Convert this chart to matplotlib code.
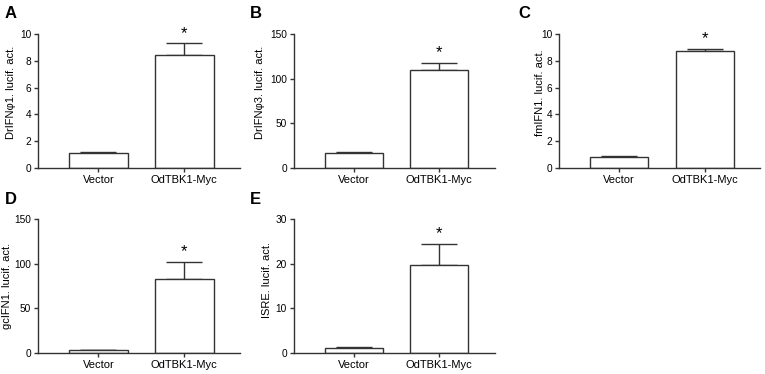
import numpy as np
import matplotlib
matplotlib.use("Agg")
import matplotlib.pyplot as plt

# --- Data ---
groups = ["Vector", "OdTBK1-Myc"]
panel_labels = ["A", "B", "C", "D", "E"]
ylabels = ["DrIFNφ1. lucif. act.", "DrIFNφ3. lucif. act.", "fmIFN1. lucif. act.",
           "gcIFN1. lucif. act.", "ISRE. lucif. act."]
means_A = [1.1, 8.4]
errs_A = [0.1, 0.9]
means_B = [17, 110]
errs_B = [1, 8]
means_C = [0.85, 8.75]
errs_C = [0.02, 0.12]
means_D = [3, 83]
errs_D = [0.5, 19]
means_E = [1.2, 19.7]
errs_E = [0.1, 4.8]
ymax = [10, 150, 10, 150, 30]
ysteps = [2, 50, 2, 50, 10]

means = [means_A, means_B, means_C, means_D, means_E]
errs = [errs_A, errs_B, errs_C, errs_D, errs_E]

# layout (figure fractions)
positions = [
    [0.050, 0.551, 0.264, 0.358],
    [0.384, 0.551, 0.263, 0.358],
    [0.731, 0.551, 0.263, 0.358],
    [0.050, 0.056, 0.264, 0.358],
    [0.384, 0.056, 0.263, 0.358],
]
label_xy = [(0.006, 0.951), (0.327, 0.951), (0.677, 0.951), (0.006, 0.455), (0.327, 0.455)]
ylabel_xy = [(-0.11, 0.565), (-0.144, 0.565), (-0.07, 0.565), (-0.13, 0.5), (-0.107, 0.545)]

col = "#333333"
plt.rcParams['font.family'] = ['Liberation Sans', 'DejaVu Sans']

fig = plt.figure(figsize=(7.65, 3.74), dpi=100)

for i in range(5):
    ax = fig.add_axes(positions[i])
    x = np.arange(len(groups))
    ax.bar(x, means[i], width=0.68, color="white", edgecolor=col, linewidth=1.0, zorder=2)
    ax.errorbar(x, means[i], yerr=[np.zeros(2), errs[i]], fmt="none", ecolor=col,
                elinewidth=1.0, capsize=13, capthick=1.0, zorder=1)
    top = means[i][1] + errs[i][1]
    ax.text(1, top + ymax[i] * 0.02, "*", ha="center", va="bottom", fontsize=12, color="black")
    ax.set_xlim(-0.7, 1.65)
    ax.set_ylim(0, ymax[i])
    ax.set_yticks(np.arange(0, ymax[i] + 1e-9, ysteps[i]))
    ax.set_xticks(x)
    ax.set_xticklabels(groups)
    ax.set_ylabel(ylabels[i], fontsize=8)
    ax.yaxis.set_label_coords(*ylabel_xy[i])
    for s in ["top", "right"]:
        ax.spines[s].set_visible(False)
    for s in ["left", "bottom"]:
        ax.spines[s].set_color(col)
        ax.spines[s].set_linewidth(1.0)
    ax.tick_params(colors=col, labelcolor="black", length=3, width=1.0, pad=2)
    ax.tick_params(axis="x", labelsize=8)
    ax.tick_params(axis="y", labelsize=7.3)
    fig.text(label_xy[i][0], label_xy[i][1], panel_labels[i], fontsize=12,
             fontweight="bold", va="baseline", ha="left")

fig.savefig("out.png", dpi=100)
